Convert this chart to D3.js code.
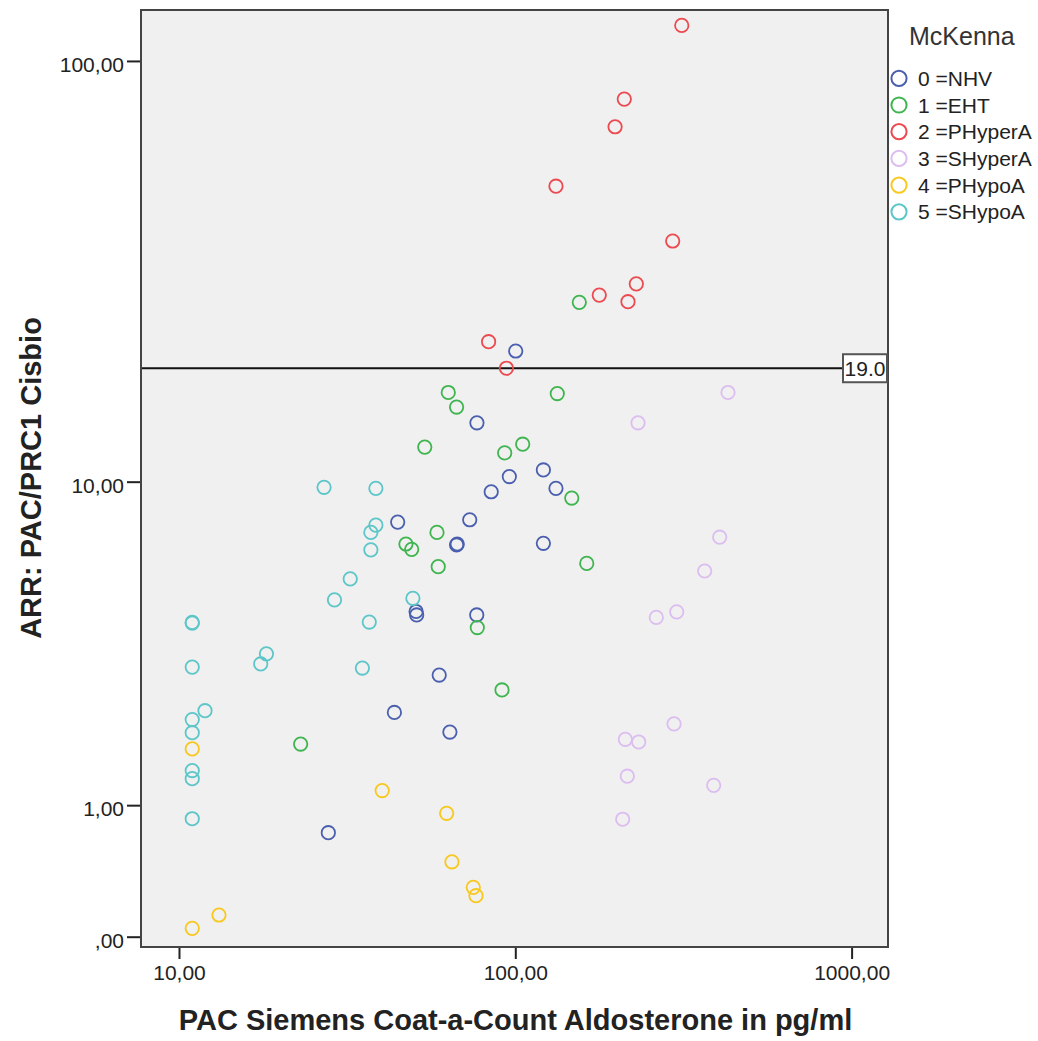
<!DOCTYPE html>
<html>
<head>
<meta charset="utf-8">
<script src="https://cdn.jsdelivr.net/npm/d3@7"></script>
<style>
  html, body { margin: 0; padding: 0; background: #fff; }
  svg { display: block; font-family: "Liberation Sans", Arial, sans-serif; }
</style>
</head>
<body>
<svg id="chart" width="1038" height="1041"></svg>
<script>
// PAC (pg/ml) vs ARR, one array per McKenna group: [pac, arr]
const nhv = [[100.3, 20.9], [76.9, 14.0], [121.2, 10.7], [96.0, 10.3], [84.8, 9.43], [132.1, 9.62],
  [44.7, 7.89], [73.2, 8.0], [66.9, 6.88], [67.2, 6.92], [121.2, 6.95], [50.7, 4.55], [50.9, 4.45],
  [76.8, 4.45], [59.4, 2.97], [43.7, 2.26], [63.9, 1.94], [27.8, 0.73]]
const eht = [[155, 27.3], [63.2, 16.6], [66.9, 15.3], [133.3, 16.5], [53.8, 12.2], [105.2, 12.4],
  [93.0, 11.8], [147.2, 9.09], [58.5, 7.42], [47.3, 6.92], [49.2, 6.70], [59.0, 6.03], [163.1, 6.15],
  [77.1, 4.1], [91.3, 2.67], [23.0, 1.76]]
const phyperA = [[312.6, 120.8], [210.9, 81.6], [198, 70.4], [132.1, 51.2], [293.8, 38.1], [229, 30.2],
  [177.7, 28.4], [216.3, 27.4], [83.3, 22.0], [94.1, 19.0]]
const shyperA = [[429, 16.6], [231.7, 14.0], [405.3, 7.21], [365.7, 5.87], [302, 4.54], [262.6, 4.38],
  [296.5, 2.07], [212.4, 1.83], [232.8, 1.79], [215.3, 1.33], [389, 1.22], [208.6, 0.857]]
const phypoA = [[10.95, 1.69], [40.2, 1.16], [62.5, 0.916], [64.8, 0.484], [75.0, 0.297], [76.4, 0.241],
  [13.15, 0.121], [10.95, 0.045]]
const shypoA = [[27.0, 9.68], [38.5, 9.62], [38.5, 7.75], [37.2, 7.42], [37.2, 6.68], [32.3, 5.59],
  [29.0, 4.9], [49.6, 4.95], [10.95, 4.22], [10.95, 4.24], [36.8, 4.25], [18.2, 3.44], [17.5, 3.21],
  [10.95, 3.14], [35.1, 3.12], [11.95, 2.29], [10.95, 2.14], [10.95, 1.93], [10.95, 1.40], [10.95, 1.30],
  [10.95, 0.862]]

const groupLabels = ["0 =NHV", "1 =EHT", "2 =PHyperA", "3 =SHyperA", "4 =PHypoA", "5 =SHypoA"]
const groupColors = ["#4a5fae", "#3fb54f", "#ec4a4f", "#dcbdf0", "#f8c81e", "#5cc6c8"]
const groups = [nhv, eht, phyperA, shyperA, phypoA, shypoA]

const xTicks = [10, 100, 1000]
const yTicks = [0, 1, 10, 100]
const cutoff = 19.0

const plot = { left: 141, right: 888, top: 10, bottom: 947 }

const svg = d3.select("#chart")

const x = d3.scaleLog()
  .domain([7.71, 1283])
  .range([plot.left, plot.right])

// SPSS plots ARR on a log(y+1) type axis
const y = d3.scaleSymlog()
  .constant(1)
  .domain([-0.0558, 131.1])
  .range([plot.bottom, plot.top])

const fmt = (v) => v === 0 ? ",00" : v.toFixed(2).replace(".", ",")

svg.append("rect")
  .attr("x", plot.left)
  .attr("y", plot.top)
  .attr("width", plot.right - plot.left)
  .attr("height", plot.bottom - plot.top)
  .attr("fill", "#f0f0f0")

// axes
svg.append("g")
  .attr("transform", `translate(${plot.left},0)`)
  .call(d3.axisLeft(y).tickValues(yTicks).tickFormat(fmt).tickSize(14).tickSizeOuter(0).tickPadding(3))
  .call((axis) => axis.select(".domain").remove())
  .call((axis) => axis.selectAll("line").attr("stroke", "#222").attr("stroke-width", 2))
  .call((axis) => axis.selectAll("text")
    .attr("font-size", 21).attr("fill", "#222").attr("font-family", "Liberation Sans, Arial")
    .attr("dy", "0.5em"))

svg.append("g")
  .attr("transform", `translate(0,${plot.bottom})`)
  .call(d3.axisBottom(x).tickValues(xTicks).tickFormat(fmt).tickSize(12).tickSizeOuter(0).tickPadding(6))
  .call((axis) => axis.select(".domain").remove())
  .call((axis) => axis.selectAll("line").attr("stroke", "#222").attr("stroke-width", 2))
  .call((axis) => axis.selectAll("text")
    .attr("font-size", 21).attr("fill", "#222").attr("font-family", "Liberation Sans, Arial")
    .attr("dy", "0.71em"))

// reference line
svg.append("line")
  .attr("x1", plot.left)
  .attr("x2", plot.right)
  .attr("y1", y(cutoff))
  .attr("y2", y(cutoff))
  .attr("stroke", "#111")
  .attr("stroke-width", 2)

// points
groups.forEach((pts, i) => {
  svg.append("g")
    .selectAll("circle")
    .data(pts)
    .join("circle")
    .attr("cx", (d) => x(d[0]))
    .attr("cy", (d) => y(d[1]))
    .attr("r", 6.7)
    .attr("fill", "none")
    .attr("stroke", groupColors[i])
    .attr("stroke-width", 1.8)
})

// frame
svg.append("rect")
  .attr("x", plot.left)
  .attr("y", plot.top)
  .attr("width", plot.right - plot.left)
  .attr("height", plot.bottom - plot.top)
  .attr("fill", "none")
  .attr("stroke", "#444")
  .attr("stroke-width", 2)

// cutoff label
const labelG = svg.append("g")
  .attr("transform", `translate(${plot.right - 1},${y(cutoff)})`)
labelG.append("rect")
  .attr("x", -44)
  .attr("y", -14)
  .attr("width", 44)
  .attr("height", 28)
  .attr("fill", "#fff")
  .attr("stroke", "#555")
  .attr("stroke-width", 2)
labelG.append("text")
  .attr("x", -22)
  .attr("y", 8)
  .attr("text-anchor", "middle")
  .attr("font-size", 21)
  .attr("fill", "#222")
  .text(cutoff.toFixed(1))

// axis titles
svg.append("text")
  .attr("x", (plot.left + plot.right) / 2 + 1)
  .attr("y", 1030)
  .attr("text-anchor", "middle")
  .attr("font-size", 29)
  .attr("font-weight", "bold")
  .attr("fill", "#222")
  .text("PAC Siemens Coat-a-Count Aldosterone in pg/ml")

svg.append("text")
  .attr("transform", `translate(41,478) rotate(-90)`)
  .attr("text-anchor", "middle")
  .attr("font-size", 29)
  .attr("font-weight", "bold")
  .attr("fill", "#222")
  .text("ARR: PAC/PRC1 Cisbio")

// legend
const legend = svg.append("g")
legend.append("text")
  .attr("x", 909)
  .attr("y", 45)
  .attr("font-size", 25)
  .attr("fill", "#333")
  .text("McKenna")

const item = legend.selectAll("g.item")
  .data(groupLabels)
  .join("g")
  .attr("class", "item")
  .attr("transform", (d, i) => `translate(0,${78.3 + i * 26.7})`)
item.append("circle")
  .attr("cx", 899)
  .attr("cy", 0)
  .attr("r", 7.6)
  .attr("fill", "none")
  .attr("stroke", (d, i) => groupColors[i])
  .attr("stroke-width", 2)
item.append("text")
  .attr("x", 918)
  .attr("y", 7.5)
  .attr("font-size", 21)
  .attr("fill", "#222")
  .text((d) => d)
</script>
</body>
</html>
